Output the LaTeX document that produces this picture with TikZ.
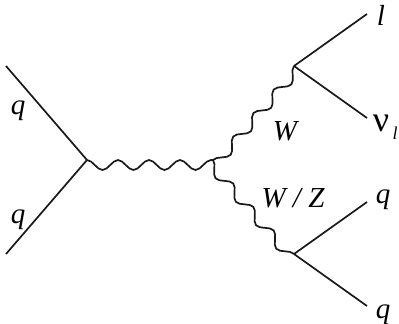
\documentclass[tikz,border=0pt]{standalone}
\usepackage{fontspec}
\setmainfont{Liberation Serif}
\usetikzlibrary{decorations}
\pgfdeclaredecoration{bosonwave}{wave}{
	\state{wave}[switch if less than=0.9\pgfdecorationsegmentlength to final,width=\pgfdecorationsegmentlength]{
		\pgfpathcurveto{\pgfqpoint{0.18\pgfdecorationsegmentlength}{0pt}}{\pgfqpoint{0.32\pgfdecorationsegmentlength}{-\pgfdecorationsegmentamplitude}}{\pgfqpoint{0.5\pgfdecorationsegmentlength}{-\pgfdecorationsegmentamplitude}}
		\pgfpathcurveto{\pgfqpoint{0.68\pgfdecorationsegmentlength}{-\pgfdecorationsegmentamplitude}}{\pgfqpoint{0.82\pgfdecorationsegmentlength}{0pt}}{\pgfqpoint{\pgfdecorationsegmentlength}{0pt}}
	}
	\state{final}{\pgfpathlineto{\pgfpointdecoratedpathlast}}
}
\tikzset{
	fermion/.style={line width=1.7pt,draw=black!90},
	boson/.style={line width=1.7pt,draw=black!90,decorate,decoration={bosonwave,segment length=31pt,amplitude=10pt}},
	lbl/.style={anchor=base,inner sep=0pt,font=\fontsize{29}{29}\selectfont\itshape},
	sublbl/.style={anchor=base,inner sep=0pt,font=\fontsize{18}{18}\selectfont\itshape}
}
\begin{document}
\begin{tikzpicture}[x=1pt,y=-1pt]
	\useasboundingbox (0,0) rectangle (399,324);
	% vertices and free ends
	\coordinate (qin1) at (6,66);
	\coordinate (qin2) at (6,254);
	\coordinate (vtxA) at (87,160);
	\coordinate (vtxB) at (213,160);
	\coordinate (vtxW) at (294,66);
	\coordinate (vtxZ) at (294,254);
	\coordinate (lep) at (367,14);
	\coordinate (nu) at (367,118);
	\coordinate (qout1) at (367,202);
	\coordinate (qout2) at (367,306);
	% lines
	\draw[fermion] (qin1) -- (vtxA);
	\draw[fermion] (qin2) -- (vtxA);
	\draw[fermion] (vtxW) -- (lep);
	\draw[fermion] (vtxW) -- (nu);
	\draw[fermion] (vtxZ) -- (qout1);
	\draw[fermion] (vtxZ) -- (qout2);
	% bosons
	\draw[boson] (vtxA) -- (vtxB);
	\draw[boson] (vtxB) -- (vtxW);
	\draw[boson] (vtxB) -- (vtxZ);
	% labels
	\node[lbl] (qlabA) at (18,114) {q};
	\node[lbl] (qlabB) at (18,223) {q};
	\node[lbl] (wlab) at (285,140) {W};
	\node[lbl] (wzlab) at (293,207) {W / Z};
	\node[lbl] (llab) at (381,25) {l};
	\node[lbl,font=\fontsize{36}{36}\selectfont\upshape] (nulab) at (381,131) {ν};
	\node[sublbl] (nusub) at (395,139) {l};
	\node[lbl] (qlabC) at (383,203) {q};
	\node[lbl] (qlabD) at (383,318) {q};
\end{tikzpicture}
\end{document}
